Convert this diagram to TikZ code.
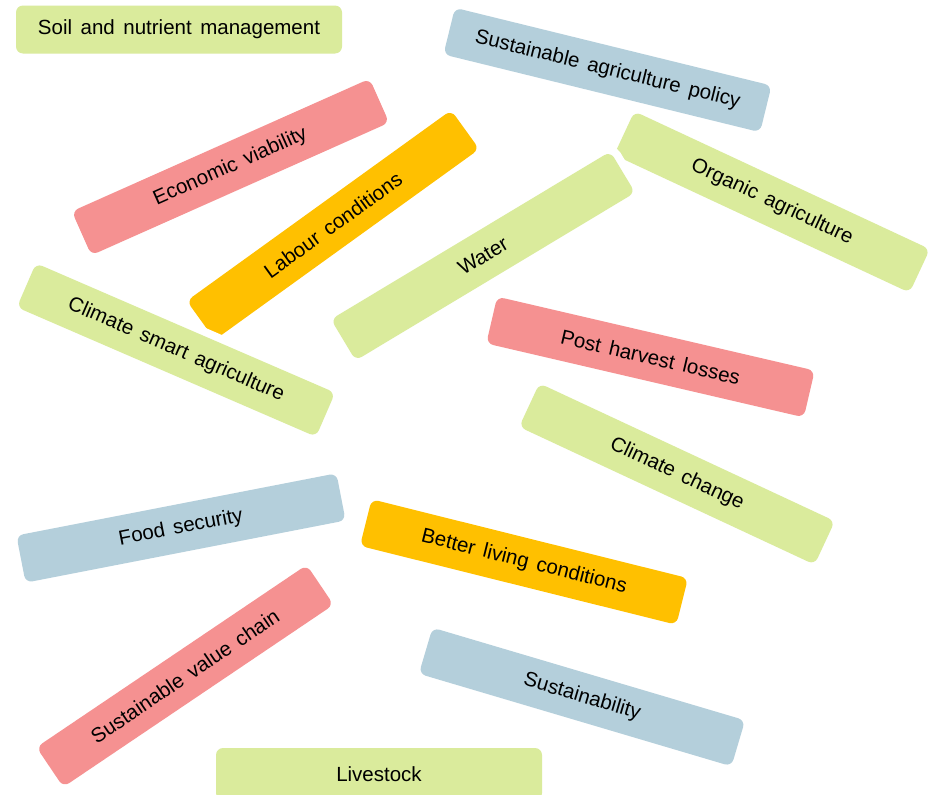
\documentclass[tikz,border=0pt]{standalone}
\usepackage{fontspec}
\setmainfont{Liberation Sans}[WordSpace=1.5]
\definecolor{cgreen}{HTML}{DAEB9C}
\definecolor{cblue}{HTML}{B4CFDB}
\definecolor{cred}{HTML}{F59191}
\definecolor{corange}{HTML}{FFC000}
\begin{document}
\begin{tikzpicture}[x=1pt,y=-1pt,
  tag/.style={rounded corners=7pt, minimum width=326pt, minimum height=48pt,
    inner sep=0pt, font=\fontsize{20.5}{24}\selectfont, text=black,
    preaction={draw=white, line width=16pt}},
  green/.style={tag, fill=cgreen},
  blue/.style={tag, fill=cblue},
  red/.style={tag, fill=cred},
  orange/.style={tag, fill=corange}]
\useasboundingbox (0,0) rectangle (932,795);
\node[green] (soil) at (179,29.5) {Soil and nutrient management};
\node[blue, rotate=-13.8] (sap) at (607.5,70) {Sustainable agriculture policy};
\node[red, rotate=24] (econ) at (230.5,167) {Economic viability};
\node[orange, rotate=35.8] (labour) at (333,225) {Labour conditions};
\node[green, rotate=-25] (organic) at (772,202) {Organic agriculture};
\node[green, rotate=31] (water) at (483,256) {Water};
\node[green, rotate=-23.4] (csa) at (176,350) {Climate smart agriculture};
\node[red, rotate=-13.1] (phl) at (650.5,357) {Post harvest losses};
\node[green, rotate=-25] (cc) at (677,474) {Climate change};
\node[blue, rotate=11] (food) at (181,528) {Food security};
\node[orange, rotate=-14] (better) at (524,562) {Better living conditions};
\node[red, rotate=34] (svc) at (185,676) {Sustainable value chain};
\node[blue, rotate=-16.5] (sust) at (582,697) {Sustainability};
\node[green, minimum height=52pt] (live) at (379,774) {Livestock};
\end{tikzpicture}
\end{document}
